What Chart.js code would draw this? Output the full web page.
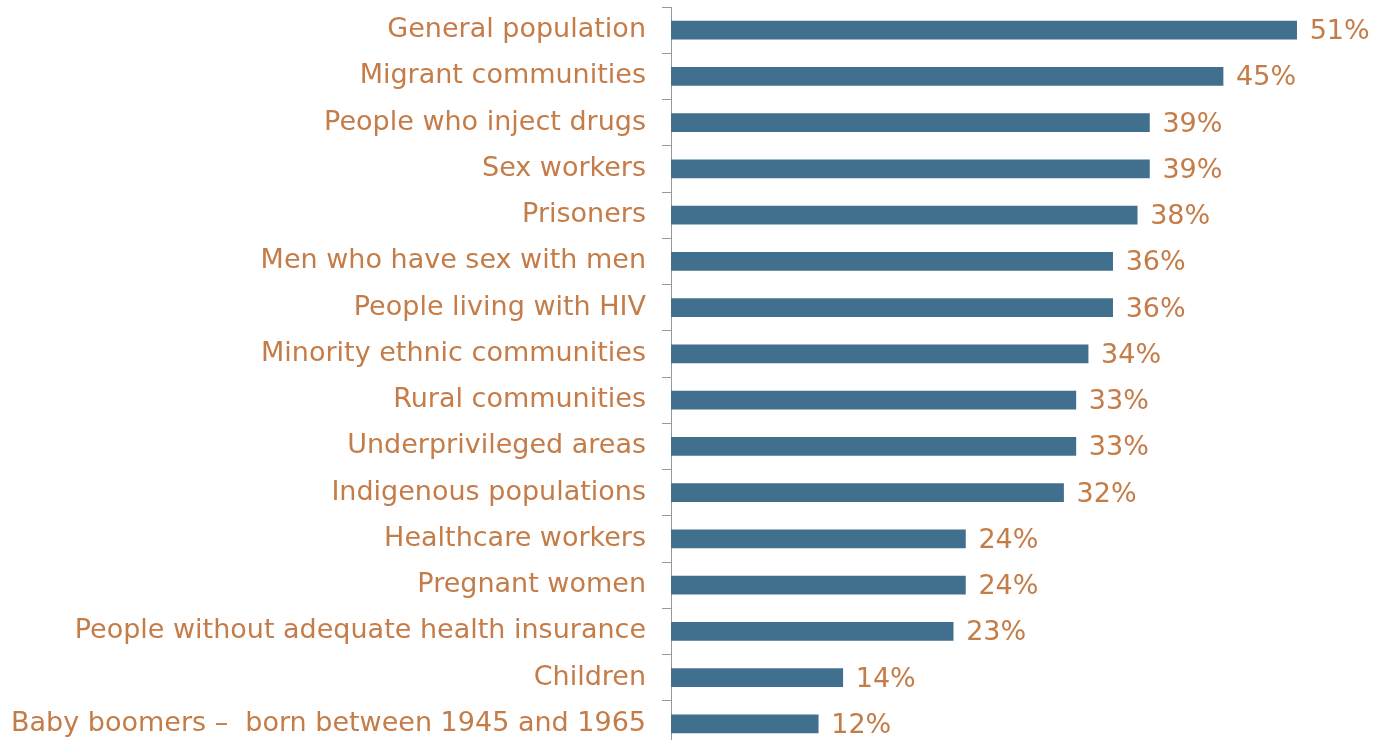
<!DOCTYPE html>
<html>
<head>
<meta charset="utf-8">
<title>Groups</title>
<script src="https://cdn.jsdelivr.net/npm/chart.js@4/dist/chart.umd.min.js"></script>
<style>
  html, body { margin: 0; padding: 0; background: #fff; overflow: hidden; }
  #wrap { width: 1381px; height: 740px; overflow: hidden; }
</style>
</head>
<body>
<!-- canvas is taller than the frame so the axis runs off the bottom edge -->
<div id="wrap"><canvas id="groupChart" width="1381" height="760"></canvas></div>
<script>
const groups = [
    "General population",
    "Migrant communities",
    "People who inject drugs",
    "Sex workers",
    "Prisoners",
    "Men who have sex with men",
    "People living with HIV",
    "Minority ethnic communities",
    "Rural communities",
    "Underprivileged areas",
    "Indigenous populations",
    "Healthcare workers",
    "Pregnant women",
    "People without adequate health insurance",
    "Children",
    "Baby boomers \u2013  born between 1945 and 1965"
];
const shares = [51, 45, 39, 39, 38, 36, 36, 34, 33, 33, 32, 24, 24, 23, 14, 12];

const textColor = "#c47c48";
const barColor = "#41708f";
const fontFamily = "'DejaVu Sans', Verdana, sans-serif";

// percent labels to the right of each bar
const valueLabels = {
    id: "valueLabels",
    afterDatasetsDraw(chart) {
        const ctx = chart.ctx;
        const meta = chart.getDatasetMeta(0);
        ctx.save();
        ctx.font = "27px " + fontFamily;
        ctx.fillStyle = textColor;
        ctx.textAlign = "left";
        ctx.textBaseline = "middle";
        meta.data.forEach((bar, i) => {
            ctx.fillText(shares[i] + "%", bar.x + 13, bar.y + 2);
        });
        ctx.restore();
    }
};

new Chart(document.getElementById("groupChart"), {
    type: "bar",
    data: {
        labels: groups,
        datasets: [{
            data: shares,
            backgroundColor: barColor,
            barThickness: 18
        }]
    },
    options: {
        indexAxis: "y",
        responsive: false,
        animation: false,
        layout: { padding: { top: 7, bottom: 13, right: 23, left: 0 } },
        plugins: {
            legend: { display: false },
            tooltip: { enabled: false }
        },
        scales: {
            x: {
                display: false,
                min: 0,
                max: 56
            },
            y: {
                afterFit(scale) {
                    scale.width = 671;
                    // labels sit between ticks, no extra room needed at the ends
                    scale.paddingTop = 0;
                    scale.paddingBottom = 0;
                },
                border: { display: true, color: "#999", width: 1 },
                grid: {
                    drawOnChartArea: false,
                    drawTicks: true,
                    tickLength: 9,
                    color: "#999",
                    offset: true
                },
                ticks: {
                    color: textColor,
                    padding: 16,
                    font: { family: fontFamily, size: 27 }
                }
            }
        }
    },
    plugins: [valueLabels]
});
</script>
</body>
</html>
